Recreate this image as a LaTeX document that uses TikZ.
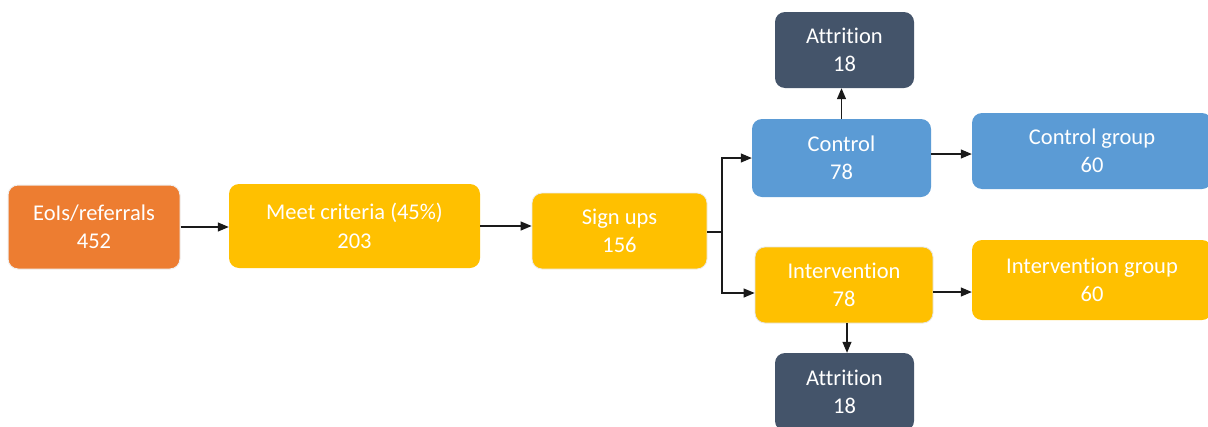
\documentclass[tikz,border=0pt]{standalone}
\usepackage{fontspec}
\setmainfont[Ligatures=NoCommon]{Carlito}
\usetikzlibrary{arrows.meta}
\definecolor{corange}{HTML}{ED7D31}
\definecolor{cyellow}{HTML}{FFC000}
\definecolor{cblue}{HTML}{5B9BD5}
\definecolor{cdark}{HTML}{44546A}
\definecolor{cline}{HTML}{1A1A1A}
\tikzset{
  box/.style={rectangle, rounded corners=10pt, text=white, align=center, inner sep=0pt,
    font=\fontsize{22.5}{28.5}\selectfont},
  arr/.style={draw=cline, line width=1.2pt, -{Triangle[length=11pt,width=9pt]}},
  ln/.style={draw=cline, line width=1.2pt}
}
\begin{document}
\begin{tikzpicture}[x=1pt,y=-1pt]
\useasboundingbox[fill=white] (0,0) rectangle (1208,426);
\node[box, fill=corange, draw=white!88!gray, line width=1pt, minimum width=172pt, minimum height=84pt] (eo) at (94,227) {EoIs/referrals\\452};
\node[box, fill=cyellow, minimum width=251pt, minimum height=84pt] (mc) at (354.5,226) {Meet criteria (45\%)\\203};
\node[box, fill=cyellow, draw=white!85!gray, line width=0.8pt, minimum width=175pt, minimum height=76pt] (su) at (619.5,231) {Sign ups\\156};
\node[box, fill=cblue, minimum width=179pt, minimum height=78pt] (ct) at (841.5,158) {Control\\78};
\node[box, fill=cdark, minimum width=139pt, minimum height=76pt] (a1) at (844.5,50) {Attrition\\18};
\node[box, fill=cblue, minimum width=240pt, minimum height=76pt] (cg) at (1092,151) {Control group\\60};
\node[box, fill=cyellow, draw=white!80!gray, line width=0.8pt, minimum width=178pt, minimum height=76pt] (iv) at (844,285) {Intervention\\78};
\node[box, fill=cyellow, minimum width=240pt, minimum height=80pt] (ig) at (1092,280) {Intervention group\\60};
\node[box, fill=cdark, minimum width=139pt, minimum height=78pt] (a2) at (844.5,392) {Attrition\\18};
\coordinate (sp) at (722,232);
\draw[arr] (eo.east) -- (eo.east -| mc.west);
\draw[arr] (mc.east) -- (mc.east -| su.west);
\draw[ln] (su.east |- sp) -- (sp);
\draw[arr] (sp) |- (ct.west);
\draw[arr] (sp) |- ([yshift=-8pt]iv.west);
\draw[arr] (ct.north) -- (ct.north |- a1.south);
\draw[arr] ([yshift=4pt]ct.east) -- ([yshift=4pt]ct.east -| cg.west);
\draw[arr] ([yshift=-7pt]iv.east) -- ([yshift=-7pt]iv.east -| ig.west);
\draw[arr] ([xshift=3pt]iv.south) -- ([xshift=3pt]iv.south |- a2.north);
\end{tikzpicture}
\end{document}
